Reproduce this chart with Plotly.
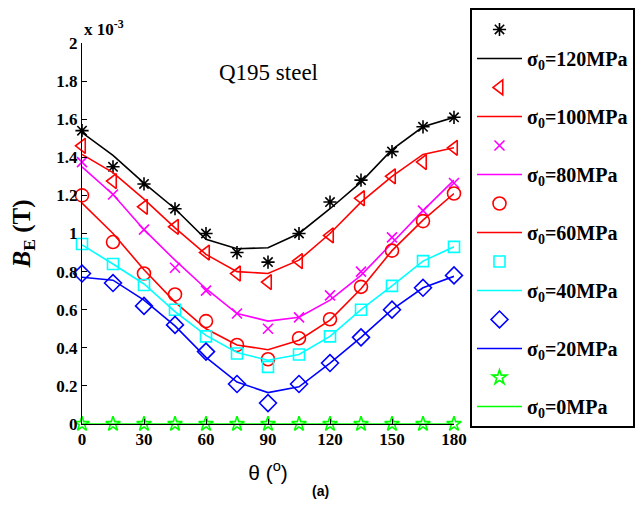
import plotly.graph_objects as go

theta = [0, 15, 30, 45, 60, 75, 90, 105, 120, 135, 150, 165, 180]

# measured points (x 1e-3 T)
m120 = [1.54, 1.35, 1.26, 1.13, 1.00, 0.90, 0.85, 1.00, 1.165, 1.28, 1.43, 1.56, 1.61]
m100 = [1.46, 1.275, 1.14, 1.035, 0.90, 0.79, 0.745, 0.855, 0.99, 1.185, 1.30, 1.375, 1.45]
m80 = [1.375, 1.205, 1.02, 0.82, 0.70, 0.58, 0.50, 0.56, 0.675, 0.80, 0.98, 1.12, 1.265]
m60 = [1.20, 0.955, 0.79, 0.68, 0.54, 0.415, 0.34, 0.45, 0.55, 0.72, 0.91, 1.065, 1.21]
m40 = [0.945, 0.84, 0.73, 0.60, 0.46, 0.37, 0.30, 0.365, 0.46, 0.60, 0.725, 0.855, 0.93]
m20 = [0.79, 0.74, 0.62, 0.52, 0.38, 0.21, 0.11, 0.21, 0.32, 0.455, 0.60, 0.715, 0.78]
m0 = [0, 0, 0, 0, 0, 0, 0, 0, 0, 0, 0, 0, 0]

# fitted curves
c120 = [1.53, 1.41, 1.265, 1.13, 0.97, 0.92, 0.925, 1.00, 1.13, 1.27, 1.44, 1.56, 1.61]
c100 = [1.415, 1.32, 1.18, 1.03, 0.89, 0.80, 0.79, 0.86, 1.00, 1.165, 1.30, 1.415, 1.45]
c80 = [1.35, 1.205, 1.02, 0.86, 0.71, 0.58, 0.54, 0.56, 0.65, 0.78, 0.95, 1.12, 1.28]
c60 = [1.16, 1.00, 0.81, 0.64, 0.50, 0.415, 0.39, 0.44, 0.545, 0.71, 0.91, 1.07, 1.21]
c40 = [0.94, 0.84, 0.735, 0.59, 0.465, 0.375, 0.335, 0.365, 0.46, 0.60, 0.725, 0.855, 0.93]
c20 = [0.77, 0.755, 0.65, 0.515, 0.35, 0.22, 0.165, 0.195, 0.32, 0.455, 0.60, 0.715, 0.775]
c0 = [0, 0, 0, 0, 0, 0, 0, 0, 0, 0, 0, 0, 0]

labels = ["120", "100", "80", "60", "40", "20", "0"]
colors = ["#000000", "#FF0000", "#FF00FF", "#FF0000", "#00FFFF", "#0000FF", "#00FF00"]
symbols = ["asterisk-open", "triangle-left-open", "x-thin-open", "circle-open",
           "square-open", "diamond-open", "star-open"]
sizes = [11, 13, 10, 13, 11, 13, 11]
measured = [m120, m100, m80, m60, m40, m20, m0]
curves = [c120, c100, c80, c60, c40, c20, c0]

FONT = "Liberation Serif"

fig = go.Figure()
k = 0
for lab, col, sym, sz, m, c in zip(labels, colors, symbols, sizes, measured, curves):
    fig.add_trace(go.Scatter(
        x=theta, y=m, mode="markers", name="\u00a0", legendgroup="g%d" % k,
        marker=dict(symbol=sym, size=sz, color=col, line=dict(color=col, width=1.6)),
        cliponaxis=False))
    k += 1
    fig.add_trace(go.Scatter(
        x=theta, y=c, mode="lines", name="σ<sub>0</sub>=" + lab + "MPa",
        legendgroup="g%d" % k,
        line=dict(color=col, width=1.6), cliponaxis=False))
    k += 1

fig.update_layout(
    width=636, height=504,
    paper_bgcolor="white", plot_bgcolor="white",
    margin=dict(l=74, r=190, t=35, b=88, autoexpand=False),
    font=dict(family=FONT, size=16, color="black"),
    xaxis=dict(range=[0, 180], tickvals=[0, 30, 60, 90, 120, 150, 180],
               ticks="inside", ticklen=5, tickcolor="black", showline=True,
               linecolor="black", linewidth=1, showgrid=False, zeroline=False,
               automargin=False,
               tickfont=dict(family=FONT, size=17, color="black", weight="bold"),
               title=dict(text="θ (<sup>o</sup>)", standoff=16,
                          font=dict(family="Liberation Sans", size=21))),
    yaxis=dict(range=[0, 2], tickvals=[0, 0.2, 0.4, 0.6, 0.8, 1, 1.2, 1.4, 1.6, 1.8, 2],
               ticktext=["0", "0.2", "0.4", "0.6", "0.8", "1", "1.2", "1.4", "1.6", "1.8", "2"],
               ticks="inside", ticklen=5, tickcolor="black", showline=True,
               linecolor="black", linewidth=1, showgrid=False, zeroline=False,
               automargin=False,
               tickfont=dict(family=FONT, size=17, color="black", weight="bold"),
               title=dict(text="<i>B</i><sub>E</sub> (T)", standoff=22,
                          font=dict(family=FONT, size=25, weight="bold"))),
    legend=dict(x=1.043, y=1.0919, xanchor="left", yanchor="top",
                bordercolor="black", borderwidth=2, bgcolor="white",
                font=dict(family=FONT, size=20, color="black", weight="bold"),
                tracegroupgap=0, maxheight=500, itemwidth=45),
    showlegend=True,
)

fig.add_annotation(xref="paper", yref="paper", x=0, y=1.0, yshift=2,
                   xanchor="left", yanchor="bottom", showarrow=False,
                   text="x 10<sup>-3</sup>",
                   font=dict(family=FONT, size=17, weight="bold"))
fig.add_annotation(xref="x", yref="y", x=90, y=1.843, showarrow=False,
                   text="Q195 steel", font=dict(family=FONT, size=23))
fig.add_annotation(xref="paper", yref="paper", x=0.640, y=-0.202,
                   showarrow=False, text="(a)",
                   font=dict(family="Liberation Sans", size=14, weight="bold"))

fig.write_html("out.html")
